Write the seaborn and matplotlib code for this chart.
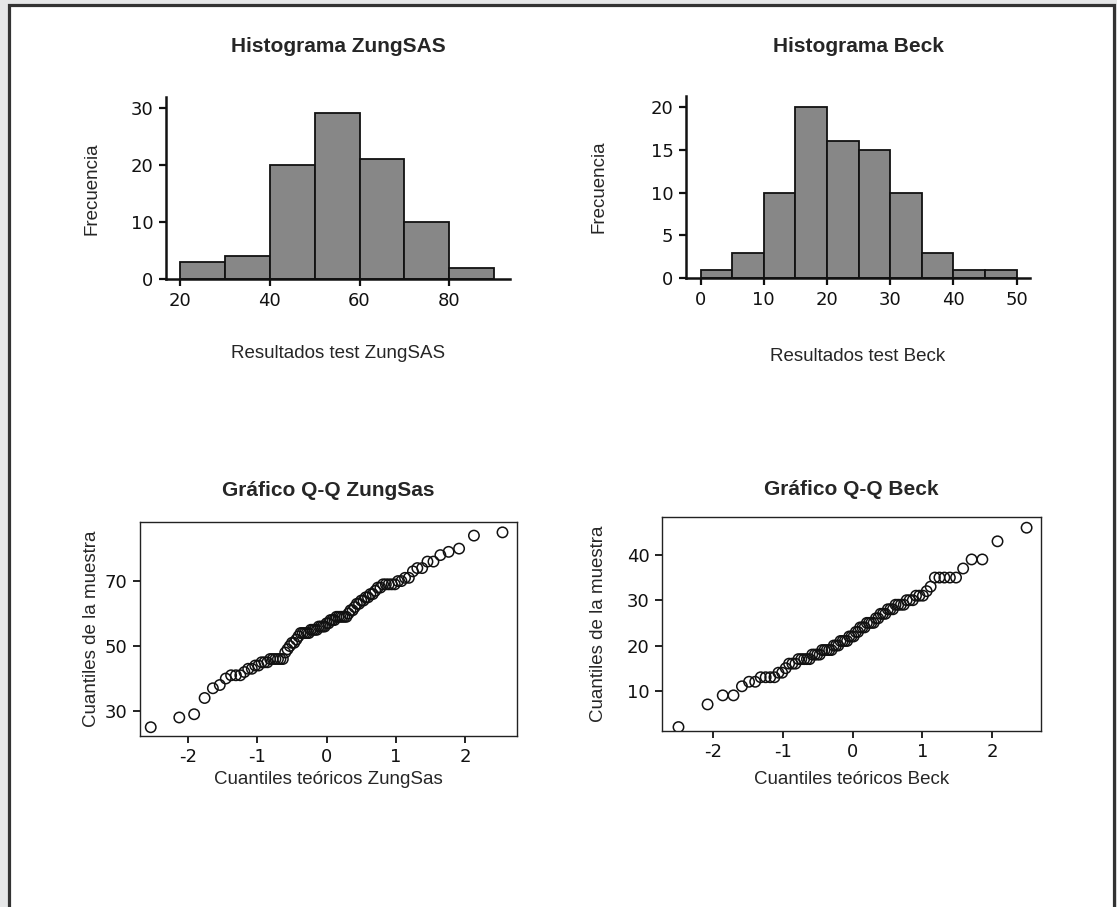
import matplotlib
matplotlib.use('Agg')
import matplotlib.pyplot as plt
from matplotlib.patches import Rectangle
import seaborn as sns
import pandas as pd
import numpy as np
from statistics import NormalDist

zung_scores = [25, 28, 29,
               34, 37, 38, 40,
               41, 41, 41, 42, 43, 43, 44, 44, 45, 45, 45, 46, 46, 46, 46, 46, 46, 48, 49, 50,
               51, 51, 52, 53, 54, 54, 54, 54, 54, 55, 55, 55, 55, 56, 56, 56, 56, 57, 57,
               58, 58, 58, 59, 59, 59, 59, 59, 59, 60,
               61, 61, 62, 63, 63, 64, 64, 65, 65, 66, 66, 67, 68, 68, 69, 69, 69, 69, 69, 70,
               70, 71, 71, 73, 74, 74, 76, 76, 78, 79, 80,
               84, 85]
beck_scores = [2,
               7, 9, 9,
               11, 12, 12, 13, 13, 13, 13, 14, 14, 15,
               16, 16, 16, 17, 17, 17, 17, 17, 18, 18, 18, 18, 19, 19, 19, 19, 19, 20, 20, 20,
               21, 21, 21, 21, 22, 22, 22, 23, 23, 24, 24, 24, 25, 25, 25, 25,
               26, 26, 27, 27, 27, 28, 28, 28, 29, 29, 29, 29, 30, 30, 30,
               31, 31, 31, 32, 33, 35, 35, 35, 35, 35,
               37, 39, 39,
               43,
               46]

zung_bins = [20, 30, 40, 50, 60, 70, 80, 90]
beck_bins = [0, 5, 10, 15, 20, 25, 30, 35, 40, 45, 50]

zung_hist_xticks = [20, 40, 60, 80]
zung_hist_yticks = [0, 10, 20, 30]
beck_hist_xticks = [0, 10, 20, 30, 40, 50]
beck_hist_yticks = [0, 5, 10, 15, 20]
qq_xticks = [-2, -1, 0, 1, 2]
zung_qq_yticks = [30, 50, 70]
beck_qq_yticks = [10, 20, 30, 40]

sns.set_theme(style='ticks')
plt.rcParams['font.family'] = ['Liberation Sans', 'DejaVu Sans']
plt.rcParams['axes.unicode_minus'] = False

W, H = 1117, 907
fig = plt.figure(figsize=(W / 100, H / 100), dpi=100)
fig.patch.set_facecolor('#e6e7e8')
fig.add_artist(Rectangle((9.5 / W, -0.05), (1113.5 - 9.5) / W, 1.05 - 5.5 / H,
                         transform=fig.transFigure, facecolor='white',
                         edgecolor='#333333', linewidth=2.3, zorder=-5))


def px_axes(left, top, right, bottom):
    return fig.add_axes([left / W, 1 - bottom / H, (right - left) / W, (bottom - top) / H])


def style_ticks(ax):
    for lab in ax.get_xticklabels() + ax.get_yticklabels():
        lab.set_family('DejaVu Sans')
        lab.set_fontsize(13)


def draw_hist(ax, scores, edges, xlim, ylim, xticks, yticks, title, xlabel, ylab_x, xlab_y, title_y):
    # SPSS style bins: right closed
    counts = pd.cut(pd.Series(scores), edges, right=True).value_counts(sort=False)
    mids = [iv.mid for iv in counts.index]
    sns.histplot(x=mids, weights=counts.values, bins=edges, color='#878787',
                 edgecolor='#111111', linewidth=1.3, alpha=1, ax=ax)
    ax.set_xlim(*xlim)
    ax.set_ylim(*ylim)
    ax.set_xticks(xticks)
    ax.set_yticks(yticks)
    sns.despine(ax=ax)
    for s in ['left', 'bottom']:
        ax.spines[s].set_linewidth(1.8)
        ax.spines[s].set_color('#111111')
    ax.tick_params(length=5, width=1.6, colors='#111111', pad=4)
    style_ticks(ax)
    ax.set_xlabel(xlabel, fontsize=13.5)
    ax.set_ylabel('Frecuencia', fontsize=13.5)
    ax.xaxis.set_label_coords(0.5, xlab_y)
    ax.yaxis.set_label_coords(ylab_x, 0.5)
    ax.text(0.5, title_y, title, transform=ax.transAxes, ha='center', va='center',
            fontsize=15, fontweight='bold')


def draw_qq(ax, scores, xlim, ylim, yticks, title, xlabel, ylab_x, xlab_y, title_y):
    y = np.sort(scores)
    n = len(y)
    nd = NormalDist()
    x = [nd.inv_cdf((i + 0.5) / n) for i in range(n)]
    sns.scatterplot(x=x, y=y, ax=ax, s=56, facecolor='none', edgecolor='#111111', linewidth=1.1)
    ax.set_xlim(*xlim)
    ax.set_ylim(*ylim)
    ax.set_xticks(qq_xticks)
    ax.set_yticks(yticks)
    for s in ax.spines.values():
        s.set_linewidth(1.0)
        s.set_color('#222222')
    ax.tick_params(length=5, width=1.3, colors='#111111', pad=4)
    style_ticks(ax)
    ax.set_xlabel(xlabel, fontsize=13.5)
    ax.set_ylabel('Cuantiles de la muestra', fontsize=13.5)
    ax.xaxis.set_label_coords(0.5, xlab_y)
    ax.yaxis.set_label_coords(ylab_x, 0.5)
    ax.text(0.5, title_y, title, transform=ax.transAxes, ha='center', va='center',
            fontsize=15, fontweight='bold')


ax1 = px_axes(166, 97.3, 510, 279.3)
draw_hist(ax1, zung_scores, zung_bins, (16.9, 93.5), (0, 31.8), zung_hist_xticks, zung_hist_yticks,
          'Histograma ZungSAS', 'Resultados test ZungSAS', -0.190, -0.361, 1.28)

ax2 = px_axes(686, 95.7, 1030, 278.3)
draw_hist(ax2, beck_scores, beck_bins, (-2.3, 52.1), (0, 21.3), beck_hist_xticks, beck_hist_yticks,
          'Histograma Beck', 'Resultados test Beck', -0.228, -0.379, 1.27)

ax3 = px_axes(140, 522.3, 516.7, 736)
draw_qq(ax3, zung_scores, (-2.69, 2.74), (22.3, 88.1), zung_qq_yticks,
        'Gráfico Q-Q ZungSas', 'Cuantiles teóricos ZungSas', -0.106, -0.164, 1.15)

ax4 = px_axes(662.3, 517.3, 1040.7, 730.7)
draw_qq(ax4, beck_scores, (-2.73, 2.70), (1.2, 48.3), beck_qq_yticks,
        'Gráfico Q-Q Beck', 'Cuantiles teóricos Beck', -0.147, -0.189, 1.13)

fig.savefig('out.png', dpi=100, facecolor=fig.get_facecolor())
